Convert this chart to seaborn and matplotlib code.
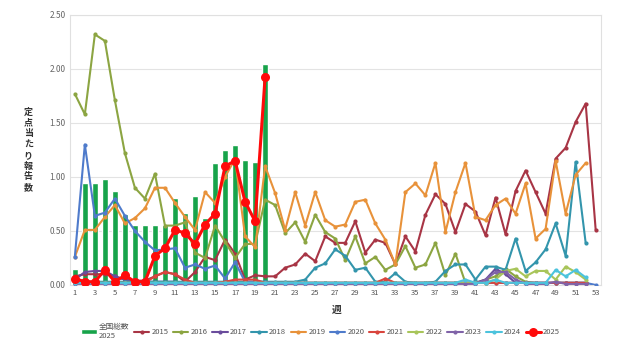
import numpy as np
import pandas as pd
import matplotlib
matplotlib.use("Agg")
import matplotlib.pyplot as plt
import seaborn as sns

sns.set_theme(style="white")
plt.rcParams['font.family'] = ['Noto Sans CJK JP', 'DejaVu Sans']

weeks52 = list(range(1, 53))
weeks53 = list(range(1, 54))
weeks20 = list(range(1, 21))

total_2025 = [0.15, 0.94, 0.94, 0.98, 0.87, 0.66, 0.56, 0.56, 0.56, 0.56,
              0.81, 0.67, 0.82, 0.62, 1.13, 1.25, 1.30, 1.16, 1.14, 2.05]

y2015 = [0.08, 0.10, 0.10, 0.10, 0.08, 0.05, 0.04, 0.04, 0.08, 0.12,
         0.10, 0.03, 0.12, 0.26, 0.23, 0.42, 0.29, 0.05, 0.09, 0.08,
         0.08, 0.16, 0.19, 0.29, 0.22, 0.45, 0.39, 0.39, 0.59, 0.30,
         0.42, 0.39, 0.19, 0.45, 0.31, 0.65, 0.84, 0.75, 0.49, 0.75,
         0.68, 0.46, 0.81, 0.47, 0.87, 1.06, 0.86, 0.66, 1.17, 1.27,
         1.51, 1.68, 0.51]
y2016 = [1.77, 1.58, 2.32, 2.26, 1.71, 1.22, 0.90, 0.80, 1.03, 0.55,
         0.55, 0.58, 0.30, 0.25, 0.55, 0.40, 0.25, 0.38, 0.38, 0.79,
         0.74, 0.48, 0.58, 0.40, 0.65, 0.49, 0.43, 0.23, 0.45, 0.20,
         0.26, 0.14, 0.19, 0.36, 0.16, 0.19, 0.39, 0.09, 0.29, 0.02,
         0.02, 0.05, 0.08, 0.15, 0.08, 0.03, 0.02, 0.02, 0.02, 0.02,
         0.02, 0.02]
y2017 = [0.05, 0.12, 0.13, 0.13, 0.08, 0.05, 0.03, 0.03, 0.03, 0.03,
         0.03, 0.02, 0.02, 0.02, 0.02, 0.02, 0.02, 0.02, 0.02, 0.02,
         0.02, 0.02, 0.02, 0.02, 0.02, 0.02, 0.02, 0.02, 0.02, 0.02,
         0.02, 0.02, 0.02, 0.02, 0.02, 0.02, 0.02, 0.02, 0.02, 0.02,
         0.02, 0.05, 0.15, 0.10, 0.02, 0.02, 0.02, 0.02, 0.02, 0.02,
         0.02, 0.02]
y2018 = [0.03, 0.03, 0.03, 0.03, 0.03, 0.03, 0.03, 0.03, 0.03, 0.03,
         0.03, 0.03, 0.03, 0.03, 0.03, 0.03, 0.03, 0.03, 0.03, 0.03,
         0.03, 0.03, 0.03, 0.05, 0.16, 0.20, 0.33, 0.27, 0.14, 0.16,
         0.03, 0.03, 0.11, 0.03, 0.02, 0.02, 0.03, 0.13, 0.19, 0.19,
         0.05, 0.17, 0.17, 0.14, 0.43, 0.13, 0.21, 0.33, 0.57, 0.27,
         1.14, 0.39]
y2019 = [0.26, 0.51, 0.51, 0.63, 0.74, 0.57, 0.62, 0.71, 0.90, 0.90,
         0.76, 0.63, 0.51, 0.86, 0.76, 1.00, 1.17, 0.45, 0.35, 1.10,
         0.85, 0.51, 0.86, 0.55, 0.86, 0.60, 0.54, 0.56, 0.77, 0.79,
         0.57, 0.42, 0.19, 0.86, 0.94, 0.83, 1.13, 0.49, 0.86, 1.13,
         0.63, 0.60, 0.74, 0.80, 0.66, 0.94, 0.43, 0.52, 1.15, 0.66,
         1.02, 1.13]
y2020 = [0.26, 1.30, 0.64, 0.67, 0.80, 0.64, 0.50, 0.40, 0.32, 0.33,
         0.34, 0.16, 0.19, 0.15, 0.18, 0.06, 0.21, 0.03, 0.03, 0.03,
         0.02, 0.02, 0.02, 0.02, 0.02, 0.02, 0.02, 0.02, 0.02, 0.02,
         0.02, 0.02, 0.02, 0.02, 0.02, 0.02, 0.02, 0.02, 0.02, 0.02,
         0.02, 0.02, 0.02, 0.02, 0.02, 0.02, 0.02, 0.02, 0.02, 0.02,
         0.02, 0.02, 0.00]
y2021 = [0.02, 0.02, 0.02, 0.02, 0.02, 0.02, 0.02, 0.02, 0.08, 0.12,
         0.10, 0.05, 0.02, 0.02, 0.02, 0.03, 0.05, 0.05, 0.05, 0.02,
         0.02, 0.02, 0.02, 0.02, 0.02, 0.02, 0.02, 0.02, 0.02, 0.02,
         0.02, 0.06, 0.02, 0.02, 0.02, 0.02, 0.02, 0.02, 0.02, 0.02,
         0.02, 0.02, 0.02, 0.02, 0.02, 0.02, 0.02, 0.02, 0.02, 0.02,
         0.02, 0.02]
y2022 = [0.02, 0.02, 0.02, 0.02, 0.02, 0.02, 0.02, 0.02, 0.02, 0.02,
         0.02, 0.02, 0.02, 0.02, 0.02, 0.02, 0.02, 0.02, 0.02, 0.02,
         0.02, 0.02, 0.02, 0.02, 0.02, 0.02, 0.02, 0.02, 0.02, 0.02,
         0.02, 0.02, 0.02, 0.02, 0.02, 0.02, 0.02, 0.02, 0.02, 0.02,
         0.02, 0.02, 0.05, 0.13, 0.15, 0.08, 0.13, 0.13, 0.05, 0.17,
         0.12, 0.05]
y2023 = [0.01, 0.01, 0.01, 0.01, 0.01, 0.01, 0.01, 0.01, 0.01, 0.01,
         0.01, 0.01, 0.01, 0.01, 0.01, 0.01, 0.01, 0.01, 0.01, 0.01,
         0.01, 0.01, 0.01, 0.01, 0.01, 0.01, 0.01, 0.01, 0.01, 0.01,
         0.01, 0.01, 0.01, 0.01, 0.01, 0.01, 0.01, 0.01, 0.01, 0.01,
         0.01, 0.05, 0.12, 0.12, 0.05, 0.01, 0.01, 0.01, 0.03, 0.01,
         0.01, 0.01]
y2024 = [0.02, 0.02, 0.02, 0.02, 0.02, 0.02, 0.02, 0.02, 0.02, 0.02,
         0.02, 0.02, 0.02, 0.02, 0.02, 0.02, 0.02, 0.02, 0.02, 0.02,
         0.02, 0.02, 0.02, 0.02, 0.02, 0.02, 0.02, 0.02, 0.02, 0.02,
         0.02, 0.02, 0.02, 0.02, 0.02, 0.02, 0.02, 0.02, 0.02, 0.05,
         0.02, 0.02, 0.05, 0.02, 0.02, 0.02, 0.02, 0.02, 0.14, 0.08,
         0.14, 0.07]
y2025 = [0.06, 0.03, 0.03, 0.14, 0.03, 0.09, 0.03, 0.03, 0.27, 0.34,
         0.51, 0.48, 0.38, 0.56, 0.66, 1.10, 1.15, 0.77, 0.59, 1.93]

series = [
    ("2015", weeks53, y2015, "#A83545"),
    ("2016", weeks52, y2016, "#8CA542"),
    ("2017", weeks52, y2017, "#6A4C9C"),
    ("2018", weeks52, y2018, "#3395AC"),
    ("2019", weeks52, y2019, "#E8923A"),
    ("2020", weeks53, y2020, "#4F7BCB"),
    ("2021", weeks52, y2021, "#D9453D"),
    ("2022", weeks52, y2022, "#A8C55A"),
    ("2023", weeks52, y2023, "#8063A8"),
    ("2024", weeks52, y2024, "#4CC3DD"),
]

fig = plt.figure(figsize=(6.29, 3.57), dpi=100)
ax = fig.add_axes([0.111, 0.2017, 0.844, 0.7563])

bar_label = "全国総数\n2025"
bar_df = pd.DataFrame({"week": weeks20, "value": total_2025})
sns.barplot(data=bar_df, x="week", y="value", native_scale=True, width=0.55,
            color="#17A34A", saturation=1, ax=ax, label=bar_label, zorder=2)

for name, wk, vals, col in series:
    df = pd.DataFrame({"week": wk, "value": vals})
    sns.lineplot(data=df, x="week", y="value", color=col, lw=1.5, marker="o",
                 markersize=3, markeredgewidth=0, ax=ax, label=name, zorder=3)

df25 = pd.DataFrame({"week": weeks20, "value": y2025})
sns.lineplot(data=df25, x="week", y="value", color="#FF0A0A", lw=2.2, marker="o",
             markersize=6.5, markeredgewidth=0, ax=ax, label="2025", zorder=4)

ax.set_xlim(0.5, 53.5)
ax.set_ylim(0, 2.5)
ax.set_xticks(list(range(1, 54, 2)))
ax.set_xticklabels([str(i) for i in range(1, 54, 2)], fontsize=5.5, color="#555555")
ax.set_yticks([0, 0.5, 1.0, 1.5, 2.0, 2.5])
ax.set_yticklabels(["0.00", "0.50", "1.00", "1.50", "2.00", "2.50"], fontsize=6, color="#666666")
ax.tick_params(axis="both", length=0, pad=3)
ax.grid(axis="y", color="#E3E3E3", lw=0.8)
ax.set_axisbelow(True)
for s in ax.spines.values():
    s.set_color("#E0E0E0")
    s.set_linewidth(0.8)
ax.set_xlabel("")
ax.set_ylabel("")

fig.text(0.045, 0.58, "定\n点\n当\nた\nり\n報\n告\n数", fontsize=6.5, fontweight="bold",
         ha="center", va="center", color="#333333", linespacing=1.25)
fig.text(0.535, 0.133, "週", fontsize=7, fontweight="bold", ha="center", va="center", color="#333333")

if ax.legend_:
    ax.legend_.remove()
handles, labels = ax.get_legend_handles_labels()
i = labels.index(bar_label)
handles = [handles[i]] + handles[:i] + handles[i + 1:]
labels = [labels[i]] + labels[:i] + labels[i + 1:]
fig.legend(handles, labels, ncol=12, loc="upper center", bbox_to_anchor=(0.51, 0.115),
           frameon=False, fontsize=5.5, handlelength=2.0, columnspacing=0.6,
           handletextpad=0.3, labelcolor="#555555")

fig.savefig("out.png", dpi=100)
